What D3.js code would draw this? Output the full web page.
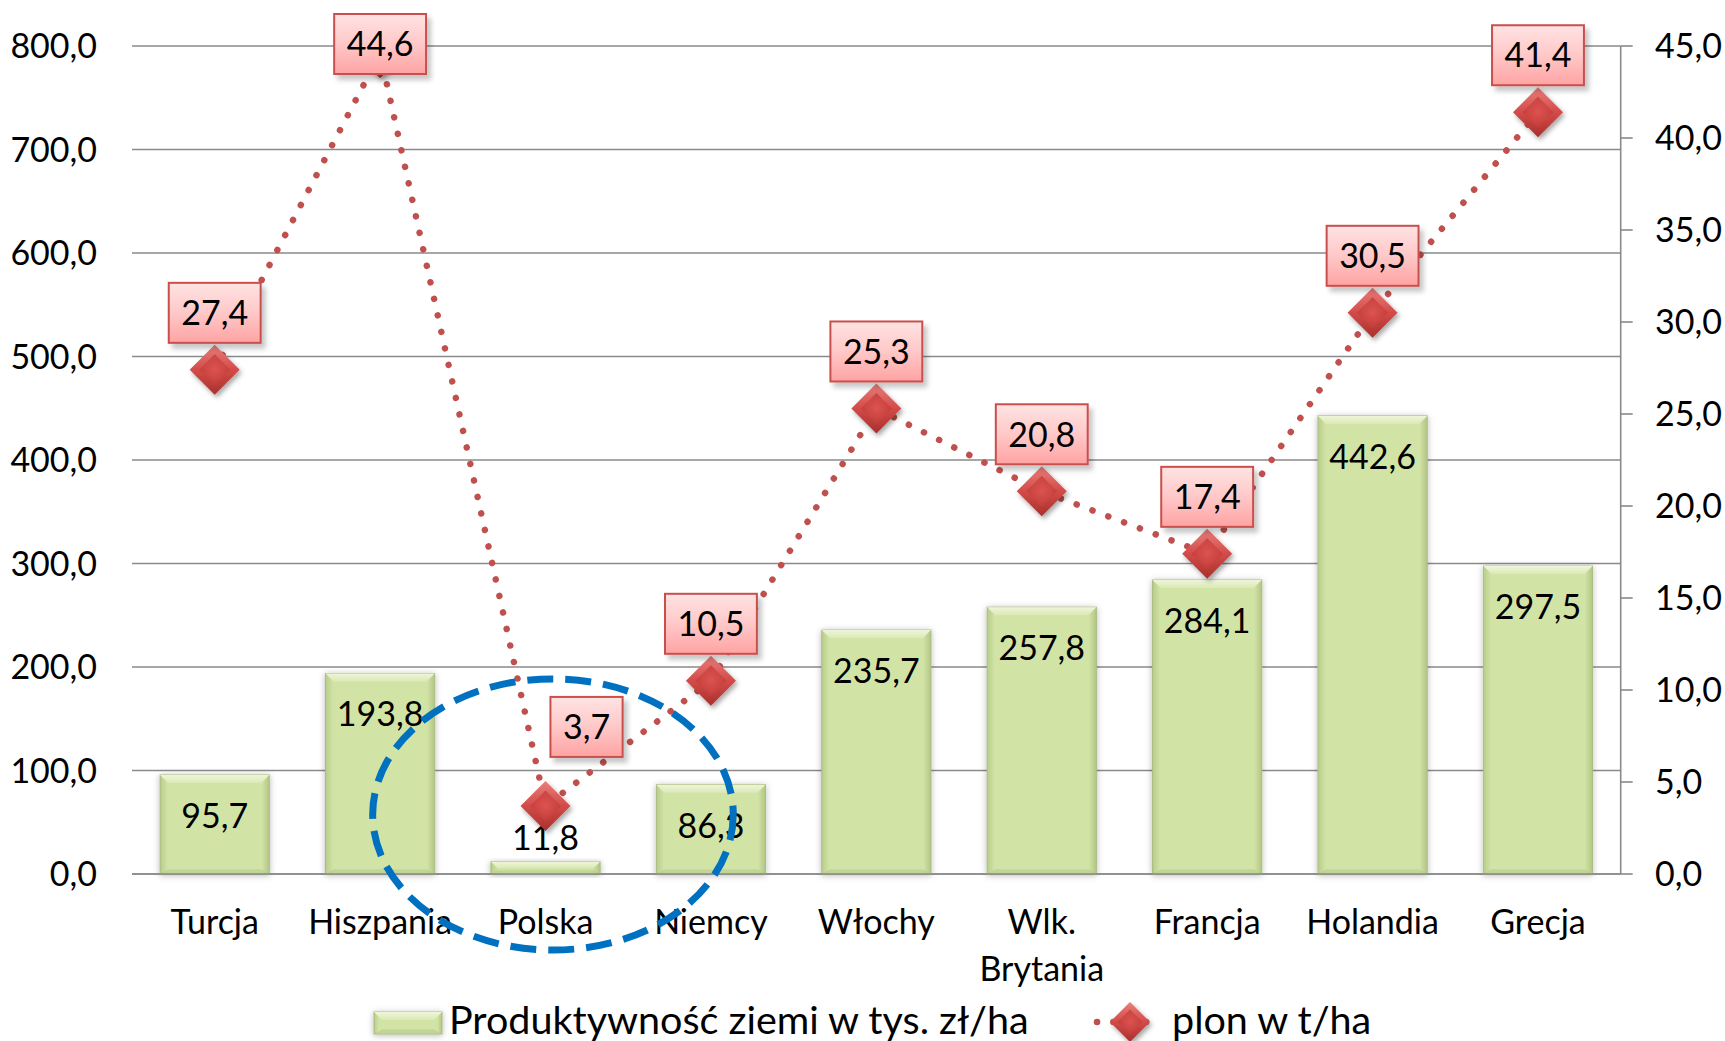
<!DOCTYPE html>
<html>
<head>
<meta charset="utf-8">
<script src="https://cdn.jsdelivr.net/npm/d3@7"></script>
<style>
  html, body { margin: 0; padding: 0; background: #fff; }
  svg { display: block; }
  text { font-family: Lato, "Open Sans", sans-serif; fill: #000; }
</style>
</head>
<body>
<svg id="chart" width="1725" height="1041"></svg>
<script>
// ---- data ----
const categories = ["Turcja", "Hiszpania", "Polska", "Niemcy", "Włochy", "Wlk. Brytania", "Francja", "Holandia", "Grecja"];
const productivity = [95.7, 193.8, 11.8, 86.3, 235.7, 257.8, 284.1, 442.6, 297.5];
const yieldTha = [27.4, 44.6, 3.7, 10.5, 25.3, 20.8, 17.4, 30.5, 41.4];
const leftTicks = [0, 100, 200, 300, 400, 500, 600, 700, 800];
const rightTicks = [0, 5, 10, 15, 20, 25, 30, 35, 40, 45];
const seriesNames = ["Produktywność ziemi w tys. zł/ha", "plon w t/ha"];
const highlighted = "Polska";

// ---- layout ----
const W = 1725, H = 1041;
const plot = { left: 132, right: 1620.7, top: 46, bottom: 874 };
const FS = 34;
const LFS = 39.5;
const fmt = v => d3.format(".1f")(v).replace(".", ",");

const svg = d3.select("#chart");
const defs = svg.append("defs");

const x = d3.scaleBand().domain(categories).range([plot.left, plot.right])
  .paddingInner(0.34).paddingOuter(0.17);
const xc = c => x(c) + x.bandwidth() / 2;
const yL = d3.scaleLinear().domain([0, 800]).range([plot.bottom, plot.top]);
const yR = d3.scaleLinear().domain([0, 45]).range([plot.bottom, plot.top]);

// gradients / filters
const gBar = defs.append("linearGradient").attr("id", "barGrad").attr("x1", 0).attr("x2", 1).attr("y1", 0).attr("y2", 0);
[[0, "#b9cd8a"], [0.07, "#d2e3a6"], [0.93, "#d2e3a6"], [1, "#b3c684"]].forEach(([o, c]) =>
  gBar.append("stop").attr("offset", o).attr("stop-color", c));
const gTop = defs.append("linearGradient").attr("id", "barTop").attr("x1", 0).attr("x2", 0).attr("y1", 0).attr("y2", 1);
[[0, "#eef5d8"], [1, "#dbe9b6"]].forEach(([o, c]) => gTop.append("stop").attr("offset", o).attr("stop-color", c));
const gLbl = defs.append("linearGradient").attr("id", "lblGrad").attr("x1", 0).attr("x2", 0).attr("y1", 0).attr("y2", 1);
[[0, "#ffe3e3"], [0.5, "#ffc8c8"], [1, "#ffa3a3"]].forEach(([o, c]) => gLbl.append("stop").attr("offset", o).attr("stop-color", c));
const gMk = defs.append("linearGradient").attr("id", "mkGrad").attr("x1", 0).attr("x2", 0).attr("y1", 0).attr("y2", 1);
[[0, "#ea7f7c"], [0.5, "#d24b48"], [1, "#a8302d"]].forEach(([o, c]) => gMk.append("stop").attr("offset", o).attr("stop-color", c));
const gMkIn = defs.append("radialGradient").attr("id", "mkIn");
[[0, "#dd5552"], [1, "#c43c39"]].forEach(([o, c]) => gMkIn.append("stop").attr("offset", o).attr("stop-color", c));

function shadow(id, dx, dy, sd, op) {
  const f = defs.append("filter").attr("id", id).attr("x", "-30%").attr("y", "-30%").attr("width", "160%").attr("height", "160%");
  f.append("feDropShadow").attr("dx", dx).attr("dy", dy).attr("stdDeviation", sd)
    .attr("flood-color", "#000").attr("flood-opacity", op);
}
shadow("shBar", 0, 1, 3, 0.28);
shadow("shLbl", 4, 5, 2.5, 0.22);
shadow("shMk", 2, 3, 2.5, 0.35);

// ---- gridlines ----
svg.append("g").selectAll("line").data(leftTicks).join("line")
  .attr("x1", plot.left).attr("x2", plot.right)
  .attr("y1", d => yL(d)).attr("y2", d => yL(d))
  .attr("stroke", "#8a8a8a").attr("stroke-width", 1.6);

// left axis labels
svg.append("g").selectAll("text").data(leftTicks).join("text")
  .attr("x", 97).attr("y", d => yL(d)).attr("dy", "0.36em")
  .attr("text-anchor", "end").attr("font-size", FS).text(fmt);

// right axis
const gr = svg.append("g");
gr.append("line").attr("x1", plot.right).attr("x2", plot.right)
  .attr("y1", yR(45)).attr("y2", yR(0)).attr("stroke", "#8a8a8a").attr("stroke-width", 1.6);
gr.selectAll("line.t").data(rightTicks).join("line").attr("class", "t")
  .attr("x1", plot.right).attr("x2", plot.right + 12)
  .attr("y1", d => yR(d)).attr("y2", d => yR(d))
  .attr("stroke", "#8a8a8a").attr("stroke-width", 1.6);
gr.selectAll("text").data(rightTicks).join("text")
  .attr("x", 1655).attr("y", d => yR(d)).attr("dy", "0.36em")
  .attr("font-size", FS).text(fmt);

// ---- bars ----
function drawBar(g, x0, y0, w, h) {
  const grp = g.append("g").attr("filter", "url(#shBar)");
  grp.append("rect").attr("x", x0).attr("y", y0).attr("width", w).attr("height", h)
    .attr("fill", "url(#barGrad)").attr("stroke", "#a9bc80").attr("stroke-width", 1);
  const b = Math.min(8, h / 2);
  grp.append("path")
    .attr("d", `M${x0},${y0} L${x0 + w},${y0} L${x0 + w - b},${y0 + b} L${x0 + b},${y0 + b} Z`)
    .attr("fill", "url(#barTop)");
  grp.append("path")
    .attr("d", `M${x0},${y0 + h} L${x0 + w},${y0 + h} L${x0 + w - b},${y0 + h - b * 0.6} L${x0 + b},${y0 + h - b * 0.6} Z`)
    .attr("fill", "#b8cb8c").attr("opacity", 0.6);
}
const gBars = svg.append("g");
categories.forEach((c, i) => {
  const v = productivity[i];
  drawBar(gBars, x(c), yL(v), x.bandwidth(), yL(0) - yL(v));
});

// category axis line
svg.append("line").attr("x1", plot.left).attr("x2", plot.right)
  .attr("y1", yL(0)).attr("y2", yL(0)).attr("stroke", "#8a8a8a").attr("stroke-width", 1.6);

// category labels
const gCat = svg.append("g");
categories.forEach(c => {
  const t = gCat.append("text").attr("x", xc(c)).attr("y", 934)
    .attr("text-anchor", "middle").attr("font-size", FS);
  c.split(" ").forEach((w, k) => t.append("tspan").attr("x", xc(c)).attr("dy", k ? 47 : 0).text(w));
});

// bar labels
svg.append("g").selectAll("text").data(categories).join("text")
  .attr("x", d => xc(d))
  .attr("y", (d, i) => {
    const top = yL(productivity[i]);
    return (yL(0) - top) > 60 ? top + 53 : top - 12;
  })
  .attr("text-anchor", "middle").attr("font-size", FS)
  .text((d, i) => fmt(productivity[i]));

// ---- line series ----
const line = d3.line().x((d, i) => xc(categories[i])).y(d => yR(d));
svg.append("path").datum(yieldTha).attr("d", line)
  .attr("fill", "none").attr("stroke", "#c0504d").attr("stroke-width", 6.5)
  .attr("stroke-linecap", "round").attr("stroke-dasharray", "0.1 16.8");

function diamond(g, cx, cy, r) {
  const m = g.append("g").attr("transform", `translate(${cx},${cy})`).attr("filter", "url(#shMk)");
  m.append("path").attr("d", `M0,${-r} L${r},0 L0,${r} L${-r},0 Z`).attr("fill", "url(#mkGrad)");
  const ri = r * 0.62;
  m.append("path").attr("d", `M0,${-ri} L${ri},0 L0,${ri} L${-ri},0 Z`).attr("fill", "url(#mkIn)").attr("opacity", 0.85);
}
const gMarks = svg.append("g");
yieldTha.forEach((v, i) => diamond(gMarks, xc(categories[i]), yR(v), 25));

// line labels (pink boxes)
const labelNudge = { 2: [41, -22] };
const gLab = svg.append("g");
yieldTha.forEach((v, i) => {
  const [ndx, ndy] = labelNudge[i] || [0, 0];
  const txt = fmt(v);
  const tmp = gLab.append("text").attr("font-size", FS).text(txt);
  const tw = tmp.node().getComputedTextLength();
  tmp.remove();
  const bw = tw + 25, bh = 60;
  let cy = yR(v) - 57 + ndy;
  if (cy - bh / 2 < 14) cy = 14 + bh / 2;
  const cx = xc(categories[i]) + ndx;
  gLab.append("rect").attr("x", cx - bw / 2).attr("y", cy - bh / 2).attr("width", bw).attr("height", bh)
    .attr("fill", "url(#lblGrad)").attr("stroke", "#c9504d").attr("stroke-width", 2)
    .attr("filter", "url(#shLbl)");
  gLab.append("text").attr("x", cx).attr("y", cy).attr("dy", "0.36em")
    .attr("text-anchor", "middle").attr("font-size", FS).text(txt);
});

// ---- annotation ellipse around highlighted category ----
svg.append("ellipse")
  .attr("cx", xc(highlighted) + 0.045 * x.step())
  .attr("cy", yL(57.5))
  .attr("rx", 1.09 * x.step())
  .attr("ry", yL(0) - yL(131))
  .attr("fill", "none").attr("stroke", "#0070c0").attr("stroke-width", 7)
  .attr("stroke-dasharray", "26 12");

// ---- legend ----
const gLeg = svg.append("g");
drawBar(gLeg, 374, 1012, 68, 22);
gLeg.append("text").attr("x", 449).attr("y", 1034).attr("font-size", LFS).text(seriesNames[0]);
gLeg.append("line").attr("x1", 1097).attr("x2", 1162).attr("y1", 1022).attr("y2", 1022)
  .attr("stroke", "#c0504d").attr("stroke-width", 6.5).attr("stroke-linecap", "round")
  .attr("stroke-dasharray", "0.1 16.25");
diamond(gLeg, 1130, 1022, 20);
gLeg.append("text").attr("x", 1172).attr("y", 1034).attr("font-size", LFS).text(seriesNames[1]);
</script>
</body>
</html>
